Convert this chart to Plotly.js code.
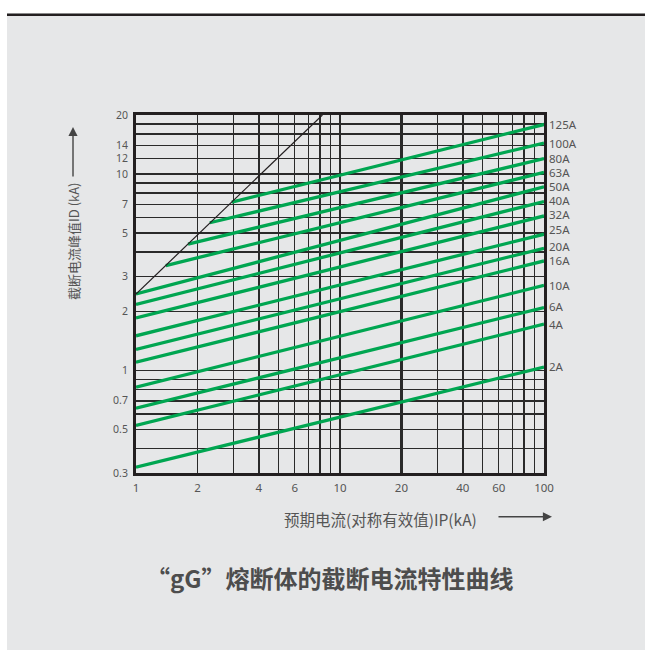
<!DOCTYPE html>
<html>
<head>
<meta charset="utf-8">
<script src="https://cdn.plot.ly/plotly-3.0.1.min.js"></script>
<style>
  html, body { margin: 0; padding: 0; background: #ffffff; width: 645px; height: 650px; overflow: hidden; }
  #bg { position: absolute; left: 7px; top: 16px; width: 638px; height: 634px; background: #e6e7e8; }
  #bar { position: absolute; left: 7px; top: 13px; width: 638px; height: 3px; background: #231f20; border-top: 1px solid #8a8a8a; box-sizing: border-box; }
  #chart { position: absolute; left: 0; top: 0; width: 645px; height: 650px; }
</style>
</head>
<body>
<div id="bg"></div>
<div id="bar"></div>
<div id="chart"></div>
<script>
// ---- data ----
const ratings = ['125A','100A','80A','63A','50A','40A','32A','25A','20A','16A','10A','6A','4A','2A'];
const startIp = [2.95, 2.3, 1.8, 1.4, 1, 1, 1, 1, 1, 1, 1, 1, 1, 1];
const startId = [7.2, 5.65, 4.4, 3.42, 2.45, 2.17, 1.85, 1.50, 1.28, 1.10, 0.822, 0.642, 0.524, 0.321];
const endIp   = [100, 100, 100, 100, 100, 100, 100, 100, 100, 100, 100, 100, 100, 100];
const endId   = [17.9, 14.4, 12.0, 10.2, 8.62, 7.25, 6.12, 4.94, 4.19, 3.61, 2.71, 2.09, 1.72, 1.04];
// label positions (kA) where the rating labels sit beside the right border
const labelId = [17.9, 14.4, 12.0, 10.2, 8.62, 7.3, 6.2, 5.2, 4.3, 3.61, 2.71, 2.12, 1.72, 1.05];

const diagIp = [1, 8.2];
const diagId = [2.45, 20];

const xGrid = [1,2,3,4,5,6,7,8,9,10,20,30,40,50,60,70,80,90,100];
const xLabels = ['1','2','','4','','6','','','','10','20','','40','','60','','','','100'];
const yGrid = [0.3,0.4,0.5,0.6,0.7,0.8,0.9,1,2,3,4,5,6,7,8,9,10,12,14,16,18,20];
const yLabels = ['0.3','','0.5','','0.7','','','1','2','3','','5','','7','','','10','12','14','','','20'];
const xThick = [20];

const yTitle = '截断电流峰值ID (kA)';
const xTitle = '预期电流(对称有效值)IP(kA)';
const caption = '“gG”熔断体的截断电流特性曲线';

// ---- traces ----
const green = '#00a651';
const traces = ratings.map((r, i) => ({
  type: 'scatter',
  mode: 'lines',
  x: [startIp[i], endIp[i]],
  y: [startId[i], endId[i]],
  line: { color: green, width: 3.3 },
  hoverinfo: 'skip',
  showlegend: false
}));
traces.push({
  type: 'scatter', mode: 'lines',
  x: diagIp, y: diagId,
  xaxis: 'x2',
  line: { color: '#231f20', width: 1.2 },
  hoverinfo: 'skip', showlegend: false
});

const xr = [Math.log10(1), Math.log10(100)];
const yr = [Math.log10(0.3), Math.log10(20)];
const tickFont = { family: 'Noto Sans, Open Sans, sans-serif', size: 10.5, color: '#555555' };
const gridColor = '#2a2a2a';

const labelAnn = ratings.map((r, i) => ({
  xref: 'x', yref: 'y', x: Math.log10(endIp[i]), y: Math.log10(labelId[i]),
  text: r, showarrow: false, xanchor: 'left', yanchor: 'middle', xshift: 3,
  font: { family: 'Noto Sans, Open Sans, sans-serif', size: 11.5, color: '#555555' }
}));

const layout = {
  width: 645, height: 650,
  paper_bgcolor: 'rgba(0,0,0,0)',
  plot_bgcolor: 'rgba(0,0,0,0)',
  margin: { l: 136, r: 101, t: 115, b: 177, pad: 0 },
  showlegend: false,
  xaxis: {
    type: 'log', range: xr, tickmode: 'array', tickvals: xGrid, ticktext: xLabels,
    showgrid: true, gridcolor: gridColor, gridwidth: 1.5, zeroline: false,
    showline: true, mirror: true, linecolor: '#231f20', linewidth: 3,
    ticks: '', tickfont: { family: 'Noto Sans, Open Sans, sans-serif', size: 11.5, color: '#555555' },
    ticklabelstandoff: 2
  },
  xaxis2: {
    type: 'log', range: xr, overlaying: 'x', tickmode: 'array', tickvals: xThick,
    showgrid: true, gridcolor: gridColor, gridwidth: 3, showticklabels: false,
    showline: false, zeroline: false, ticks: ''
  },
  yaxis: {
    type: 'log', range: yr, tickmode: 'array', tickvals: yGrid, ticktext: yLabels,
    showgrid: true, gridcolor: gridColor, gridwidth: 1.5, zeroline: false,
    showline: true, mirror: true, linecolor: '#231f20', linewidth: 3,
    ticks: '', tickfont: tickFont, ticklabelstandoff: 3
  },
  annotations: labelAnn.concat([
    { xref: 'paper', yref: 'paper', x: -0.1544, y: 0.648, xanchor: 'center', yanchor: 'middle',
      text: yTitle, textangle: -90,
      showarrow: false, font: { family: 'Noto Sans CJK SC, sans-serif', size: 13, color: '#555555' } },
    { xref: 'paper', yref: 'paper', x: -0.1544, y: 0.9665, ax: 0, ay: 51, text: '',
      showarrow: true, arrowhead: 2, arrowsize: 1.3, arrowwidth: 1.4, arrowcolor: '#444444' },
    { xref: 'paper', yref: 'paper', x: 0.60, y: -0.1275, xanchor: 'center', yanchor: 'middle',
      text: xTitle,
      showarrow: false, font: { family: 'Noto Sans CJK SC, sans-serif', size: 15.5, color: '#555555' } },
    { xref: 'paper', yref: 'paper', x: 1.0196, y: -0.122, ax: -55, ay: 0, text: '',
      showarrow: true, arrowhead: 2, arrowsize: 1.3, arrowwidth: 1.4, arrowcolor: '#444444' },
    { xref: 'paper', yref: 'paper', x: (330 - 136) / 408, y: (473.3 - 578) / 358.3,
      xanchor: 'center', yanchor: 'middle', text: '<b>' + caption + '</b>',
      showarrow: false, font: { family: 'Noto Sans CJK SC, sans-serif', size: 24, color: '#4d4d4d' } }
  ])
};

Plotly.newPlot('chart', traces, layout, { staticPlot: true, displayModeBar: false });
</script>
</body>
</html>
